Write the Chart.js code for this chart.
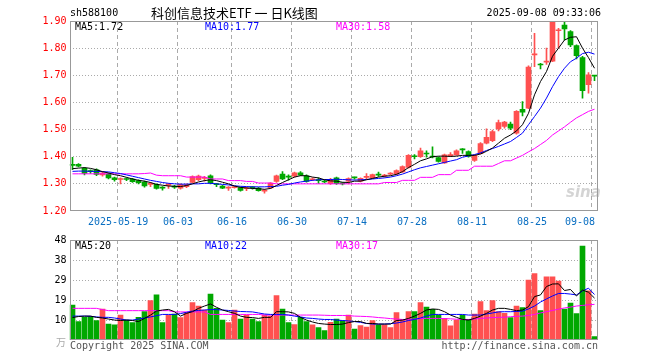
<!DOCTYPE html>
<html><head><meta charset="utf-8">
<script src="https://cdn.jsdelivr.net/npm/chart.js@4.4.1/dist/chart.umd.min.js"></script>
<style>
html,body{margin:0;padding:0;background:#fff;}
#wrap{position:relative;width:660px;height:360px;overflow:hidden;background:#fff;}
canvas{position:absolute;left:0;}
.t{position:absolute;white-space:nowrap;font-family:"DejaVu Sans Mono","Liberation Mono",monospace;font-size:10px;line-height:12px;}
</style></head><body><div id="wrap">
<canvas id="pc" width="660" height="232" style="top:0;width:660px;height:232px"></canvas>
<canvas id="vc" width="660" height="130" style="top:230px;width:660px;height:130px"></canvas>
<div class="t" style="left:70px;top:7px;color:#000">sh588100</div>
<div class="t" style="left:151px;top:5px;font-family:'Noto Sans CJK SC',sans-serif;font-size:13px;line-height:16px;color:#000">科创信息技术ETF 一 日K线图</div>
<div class="t" style="right:59px;top:7px;color:#000">2025-09-08 09:33:06</div>
<div class="t" id="pm5" style="left:75px;top:21px;color:#000"></div>
<div class="t" id="pm10" style="left:205px;top:21px;color:#0000ff"></div>
<div class="t" id="pm30" style="left:336px;top:21px;color:#ff00ff"></div>
<div class="t" id="vm5" style="left:75px;top:240px;color:#000"></div>
<div class="t" id="vm10" style="left:205px;top:240px;color:#0000ff"></div>
<div class="t" id="vm30" style="left:336px;top:240px;color:#ff00ff"></div>
<div class="t" style="left:566px;top:186px;font-family:'DejaVu Sans',sans-serif;font-size:15px;font-weight:bold;font-style:italic;color:rgba(160,160,160,0.45)">sina</div>
<div class="t" style="left:56px;top:336px;font-family:'Noto Sans CJK SC',sans-serif;color:#aaa">万</div>
<div class="t" style="left:70px;top:340px;color:#555">Copyright 2025 SINA.COM</div>
<div class="t" style="right:62px;top:340px;color:#555">http://finance.sina.com.cn</div>
</div>
<script>
const dates = ['05-07','05-08','05-09','05-12','05-13','05-14','05-15','05-16','05-19','05-20','05-21','05-22','05-23','05-26','05-27','05-28','05-29','05-30',
'06-03','06-04','06-05','06-06','06-09','06-10','06-11','06-12','06-13','06-16','06-17','06-18','06-19','06-20','06-23','06-24','06-25','06-26','06-27','06-30',
'07-01','07-02','07-03','07-04','07-07','07-08','07-09','07-10','07-11','07-14','07-15','07-16','07-17','07-18','07-21','07-22','07-23','07-24','07-25','07-28','07-29','07-30','07-31',
'08-01','08-04','08-05','08-06','08-07','08-08','08-11','08-12','08-13','08-14','08-15','08-18','08-19','08-20','08-21','08-22','08-25','08-26','08-27','08-28','08-29',
'09-01','09-02','09-03','09-04','09-05','09-08'];
const axisDates = ['05-19','06-03','06-16','06-30','07-14','07-28','08-11','08-25','09-08'];
const axisLabels = ['2025-05-19','06-03','06-16','06-30','07-14','07-28','08-11','08-25','09-08'];

const open = [1.370,1.372,1.357,1.347,1.352,1.333,1.336,1.322,1.316,1.318,1.318,1.312,1.307,1.298,1.298,1.286,1.294,1.290,1.284,1.290,1.305,1.315,1.320,1.330,1.298,1.292,1.284,1.286,1.286,1.282,1.286,1.284,1.273,1.285,1.309,1.336,1.326,1.328,1.341,1.330,1.315,1.313,1.308,1.301,1.322,1.301,1.310,1.323,1.310,1.324,1.322,1.333,1.329,1.336,1.336,1.344,1.361,1.401,1.400,1.412,1.400,1.397,1.377,1.404,1.407,1.427,1.419,1.386,1.412,1.450,1.459,1.502,1.512,1.520,1.487,1.575,1.579,1.775,1.740,1.748,1.752,1.864,1.885,1.861,1.809,1.765,1.665,1.698];
const high = [1.398,1.375,1.360,1.352,1.355,1.345,1.340,1.325,1.322,1.322,1.320,1.315,1.310,1.306,1.300,1.290,1.302,1.295,1.300,1.300,1.330,1.332,1.328,1.333,1.302,1.295,1.290,1.292,1.288,1.288,1.290,1.287,1.280,1.305,1.332,1.345,1.333,1.343,1.345,1.333,1.322,1.322,1.315,1.320,1.325,1.305,1.322,1.325,1.322,1.338,1.336,1.343,1.335,1.342,1.352,1.366,1.408,1.408,1.432,1.422,1.436,1.400,1.410,1.415,1.425,1.430,1.422,1.407,1.452,1.503,1.498,1.535,1.530,1.528,1.570,1.603,1.735,1.855,1.744,1.800,1.905,1.873,1.900,1.865,1.812,1.770,1.710,1.700];
const low = [1.352,1.362,1.333,1.338,1.330,1.328,1.318,1.310,1.300,1.312,1.305,1.300,1.288,1.290,1.280,1.277,1.283,1.283,1.280,1.286,1.303,1.312,1.310,1.300,1.290,1.282,1.276,1.284,1.273,1.275,1.280,1.273,1.266,1.283,1.305,1.315,1.314,1.325,1.330,1.306,1.312,1.302,1.303,1.298,1.298,1.296,1.300,1.317,1.307,1.318,1.320,1.327,1.325,1.333,1.334,1.342,1.358,1.392,1.397,1.398,1.396,1.380,1.375,1.400,1.405,1.412,1.398,1.383,1.410,1.447,1.455,1.495,1.505,1.500,1.483,1.550,1.577,1.732,1.723,1.740,1.750,1.800,1.830,1.805,1.760,1.616,1.634,1.680];
const close = [1.368,1.365,1.338,1.345,1.335,1.340,1.322,1.315,1.318,1.316,1.308,1.304,1.292,1.302,1.283,1.284,1.299,1.288,1.297,1.296,1.327,1.329,1.322,1.304,1.297,1.284,1.286,1.290,1.276,1.284,1.285,1.275,1.275,1.303,1.330,1.318,1.325,1.341,1.332,1.309,1.318,1.312,1.307,1.315,1.301,1.300,1.319,1.322,1.320,1.326,1.334,1.332,1.331,1.338,1.349,1.364,1.405,1.400,1.422,1.410,1.399,1.383,1.407,1.406,1.422,1.425,1.401,1.405,1.448,1.471,1.493,1.526,1.528,1.505,1.567,1.564,1.730,1.778,1.738,1.752,1.900,1.867,1.871,1.812,1.772,1.643,1.702,1.697];
const ma5 = [1.356,1.358,1.360,1.357,1.352,1.345,1.340,1.334,1.330,1.324,1.318,1.313,1.310,1.305,1.298,1.295,1.292,1.291,1.290,1.294,1.300,1.307,1.312,1.315,1.312,1.306,1.300,1.292,1.287,1.285,1.283,1.282,1.280,1.283,1.294,1.305,1.315,1.325,1.330,1.330,1.325,1.322,1.315,1.311,1.310,1.306,1.305,1.310,1.310,1.315,1.320,1.325,1.328,1.330,1.335,1.345,1.360,1.372,1.385,1.392,1.400,1.402,1.402,1.401,1.402,1.405,1.405,1.405,1.410,1.420,1.432,1.450,1.468,1.480,1.495,1.518,1.560,1.628,1.677,1.714,1.770,1.800,1.830,1.840,1.842,1.800,1.765,1.726];
const ma10 = [1.346,1.347,1.347,1.346,1.346,1.345,1.344,1.341,1.338,1.333,1.328,1.323,1.318,1.313,1.309,1.305,1.302,1.300,1.299,1.299,1.300,1.300,1.302,1.302,1.300,1.298,1.296,1.293,1.291,1.290,1.289,1.289,1.289,1.290,1.291,1.295,1.298,1.303,1.307,1.310,1.313,1.315,1.316,1.316,1.317,1.316,1.315,1.314,1.315,1.316,1.318,1.320,1.322,1.325,1.330,1.336,1.344,1.352,1.359,1.364,1.369,1.374,1.379,1.384,1.389,1.398,1.403,1.408,1.414,1.423,1.430,1.438,1.447,1.456,1.471,1.487,1.518,1.548,1.579,1.616,1.658,1.695,1.726,1.750,1.763,1.780,1.785,1.778];
const ma30 = [1.337,1.337,1.337,1.337,1.337,1.337,1.337,1.337,1.337,1.337,1.337,1.337,1.338,1.340,1.332,1.330,1.330,1.330,1.330,1.325,1.325,1.325,1.325,1.318,1.318,1.318,1.312,1.312,1.312,1.309,1.309,1.303,1.303,1.303,1.300,1.300,1.300,1.300,1.300,1.300,1.300,1.300,1.300,1.300,1.300,1.300,1.300,1.300,1.300,1.300,1.300,1.300,1.305,1.305,1.305,1.313,1.313,1.313,1.324,1.324,1.324,1.334,1.334,1.334,1.350,1.350,1.350,1.365,1.365,1.365,1.365,1.375,1.385,1.385,1.395,1.405,1.418,1.430,1.445,1.460,1.480,1.495,1.510,1.527,1.543,1.555,1.567,1.575];

const vol = [16.7,8.8,10.8,11.2,9.3,14.8,7.6,7.2,11.9,9.5,8.3,10.8,13.5,18.8,21.5,8.3,11.9,12.4,10.7,13.1,17.8,16.2,14.3,21.9,15.1,9.5,8.3,14.3,10.0,11.9,10.0,8.8,11.9,11.4,21.2,14.8,8.3,7.4,10.8,8.8,7.2,5.9,4.5,8.4,10.0,9.3,11.9,5.2,6.9,6.2,9.3,7.2,7.2,5.9,13.1,9.7,13.5,13.5,17.8,15.7,14.6,11.9,10.3,6.7,9.5,11.9,9.8,12.4,18.3,14.0,18.8,13.5,12.7,10.7,16.2,15.5,28.6,31.7,14.0,30.1,30.1,28.1,14.8,17.6,12.6,44.8,23.4,1.6];
const vma5 = [10.7,11.2,11.4,11.4,10.8,10.5,10.0,9.5,9.3,9.5,9.3,8.8,10.3,11.9,13.8,14.3,14.6,13.5,11.4,12.7,13.5,15.1,16.2,17.2,15.6,14.3,13.5,12.7,11.4,10.8,10.7,10.3,10.8,10.8,13.5,13.5,13.4,12.7,10.8,9.5,8.6,7.9,7.6,7.4,7.4,7.6,8.3,8.8,8.8,7.9,7.9,7.6,7.6,7.6,9.3,9.5,10.3,11.4,12.7,14.3,14.8,14.6,13.5,11.9,10.8,9.8,9.5,10.3,11.4,12.7,14.3,15.1,15.1,14.6,14.0,14.3,15.9,20.7,21.5,25.5,26.7,26.8,23.6,24.1,21.0,23.8,22.8,20.0];
const vma10 = [11.4,11.4,11.4,11.3,11.0,10.8,10.8,10.5,10.0,9.5,9.5,10.0,10.5,11.0,11.6,12.2,12.2,12.2,12.6,13.2,13.8,14.1,14.3,14.5,14.5,14.3,14.1,13.8,13.6,13.5,13.4,12.9,12.4,12.2,12.2,12.2,11.9,11.4,11.0,10.5,10.3,10.0,9.8,9.8,9.5,9.3,9.1,8.8,8.4,7.9,7.6,7.6,7.6,7.8,8.1,8.6,9.3,9.8,10.5,11.4,12.2,12.2,12.2,12.2,12.2,12.2,11.9,11.9,11.9,12.4,12.9,13.4,13.5,13.5,13.6,13.8,14.8,16.2,18.1,19.6,21.0,22.2,22.2,21.9,21.5,23.4,24.7,21.7];
const vma30 = [15.1,15.1,15.1,15.1,15.1,14.5,14.0,14.0,14.0,14.0,14.0,14.0,14.0,14.0,14.0,14.0,14.0,13.4,13.4,13.4,13.4,13.4,13.4,12.2,12.2,12.2,12.2,12.2,12.2,12.2,12.2,12.2,11.9,11.9,11.9,11.9,11.9,11.9,11.9,11.9,11.9,11.9,11.8,11.7,11.7,11.7,11.6,11.4,11.3,11.2,11.0,10.7,10.5,10.2,10.0,9.8,9.8,10.0,10.2,10.3,10.3,10.3,10.2,10.1,9.9,9.8,9.8,10.0,10.3,10.5,10.7,10.8,10.9,11.1,11.3,11.4,11.7,12.2,12.9,13.5,14.1,14.7,15.3,15.7,16.2,16.5,16.8,17.0];
const volTop = 47.7;
const volGrid = [9.54,19.08,28.62,38.16,47.7];
const volGridLabels = ['10','19','29','38','48'];

const legendPrice = ['MA5:1.72','MA10:1.77','MA30:1.58'];
const legendVol = ['MA5:20','MA10:22','MA30:17'];
document.getElementById('pm5').textContent = legendPrice[0];
document.getElementById('pm10').textContent = legendPrice[1];
document.getElementById('pm30').textContent = legendPrice[2];
document.getElementById('vm5').textContent = legendVol[0];
document.getElementById('vm10').textContent = legendVol[1];
document.getElementById('vm30').textContent = legendVol[2];

const RED = '#ff5050', GREEN = '#00a800';
const MONO = '"DejaVu Sans Mono","Liberation Mono",monospace';
const colors = close.map((c,i)=> c >= open[i] ? RED : GREEN);
const axisIdx = axisDates.map(d => dates.indexOf(d));

const frame = {
  id:'frame',
  afterDraw(chart){
    const a = chart.chartArea, ctx = chart.ctx;
    ctx.save();
    ctx.strokeStyle = '#999'; ctx.lineWidth = 1;
    ctx.strokeRect(Math.round(a.left)+0.5, Math.round(a.top)+0.5, Math.round(a.right-a.left)-1, Math.round(a.bottom-a.top)-1);
    ctx.restore();
  }
};
const xlabels = {
  id:'xlabels',
  afterDraw(chart){
    const xs = chart.scales.x, ctx = chart.ctx, a = chart.chartArea;
    ctx.save();
    ctx.font = '10px ' + MONO; ctx.fillStyle = '#0a6fc2';
    ctx.textAlign = 'left'; ctx.textBaseline = 'middle';
    axisIdx.forEach((idx,k)=>{
      const t = axisLabels[k];
      const w = ctx.measureText(t).width;
      let x = xs.getPixelForValue(idx) - 2 - w/2;
      if (x + w > a.right - 2) x = a.right - 2 - w;
      ctx.fillText(t, Math.round(x), a.bottom + 11);
    });
    ctx.restore();
  }
};
const gridX = {
  offset:true, drawTicks:false, lineWidth:1,
  color: c => axisIdx.includes(c.index) ? '#aaaaaa' : 'rgba(0,0,0,0)'
};
const lineDs = (data,color) => ({type:'line', data, borderColor:color, borderWidth:1, pointRadius:0, tension:0, fill:false, order:0});

new Chart(document.getElementById('pc'), {
  type:'bar',
  data:{labels:dates, datasets:[
    lineDs(ma5,'#000000'), lineDs(ma10,'#0000ff'), lineDs(ma30,'#ff00ff'),
    {data: open.map((o,i)=>[o,close[i]]), backgroundColor:colors, barThickness:5, minBarLength:1, grouped:false, order:1},
    {data: low.map((l,i)=>[l,high[i]]), backgroundColor:colors, barThickness:1, grouped:false, order:2}
  ]},
  options:{
    responsive:false, animation:false, events:[],
    layout:{padding:{top:21,right:62.5,bottom:0,left:0}},
    plugins:{legend:{display:false}, tooltip:{enabled:false}},
    scales:{
      x:{offset:true, grid:gridX, border:{display:false, dash:[4,3]}, ticks:{display:false, autoSkip:false}, afterFit:s=>{s.height=21;}},
      y:{min:1.2, max:1.9, ticks:{stepSize:0.1, color:'#ff0000', font:{family:MONO,size:10}, padding:3, callback:v=>v.toFixed(2)},
         grid:{drawTicks:false, color:c=> (Math.abs(c.tick.value-1.2)<0.001||Math.abs(c.tick.value-1.9)<0.001)?'rgba(0,0,0,0)':'#aaaaaa'},
         border:{display:false, dash:[1,2]}, afterFit:s=>{s.width=69.5;}}
    }
  },
  plugins:[frame, xlabels]
});

new Chart(document.getElementById('vc'), {
  type:'bar',
  data:{labels:dates, datasets:[
    lineDs(vma5,'#000000'), lineDs(vma10,'#0000ff'), lineDs(vma30,'#ff00ff'),
    {data: vol, backgroundColor:colors, barThickness:5, grouped:false, order:1}
  ]},
  options:{
    responsive:false, animation:false, events:[],
    layout:{padding:{top:10,right:62.5,bottom:0,left:0}},
    plugins:{legend:{display:false}, tooltip:{enabled:false}},
    scales:{
      x:{offset:true, grid:gridX, border:{display:false, dash:[4,3]}, ticks:{display:false, autoSkip:false}, afterFit:s=>{s.height=20;}},
      y:{min:0, max:volTop,
         afterBuildTicks:s=>{s.ticks = volGrid.map(v=>({value:v}));},
         ticks:{color:'#000', font:{family:MONO,size:10}, padding:3, callback:(v,i)=>volGridLabels[i]},
         grid:{drawTicks:false, color:c=> c.index===volGrid.length-1?'rgba(0,0,0,0)':'#aaaaaa'},
         border:{display:false, dash:[1,2]}, afterFit:s=>{s.width=69.5;}}
    }
  },
  plugins:[frame]
});
</script>
</body></html>
